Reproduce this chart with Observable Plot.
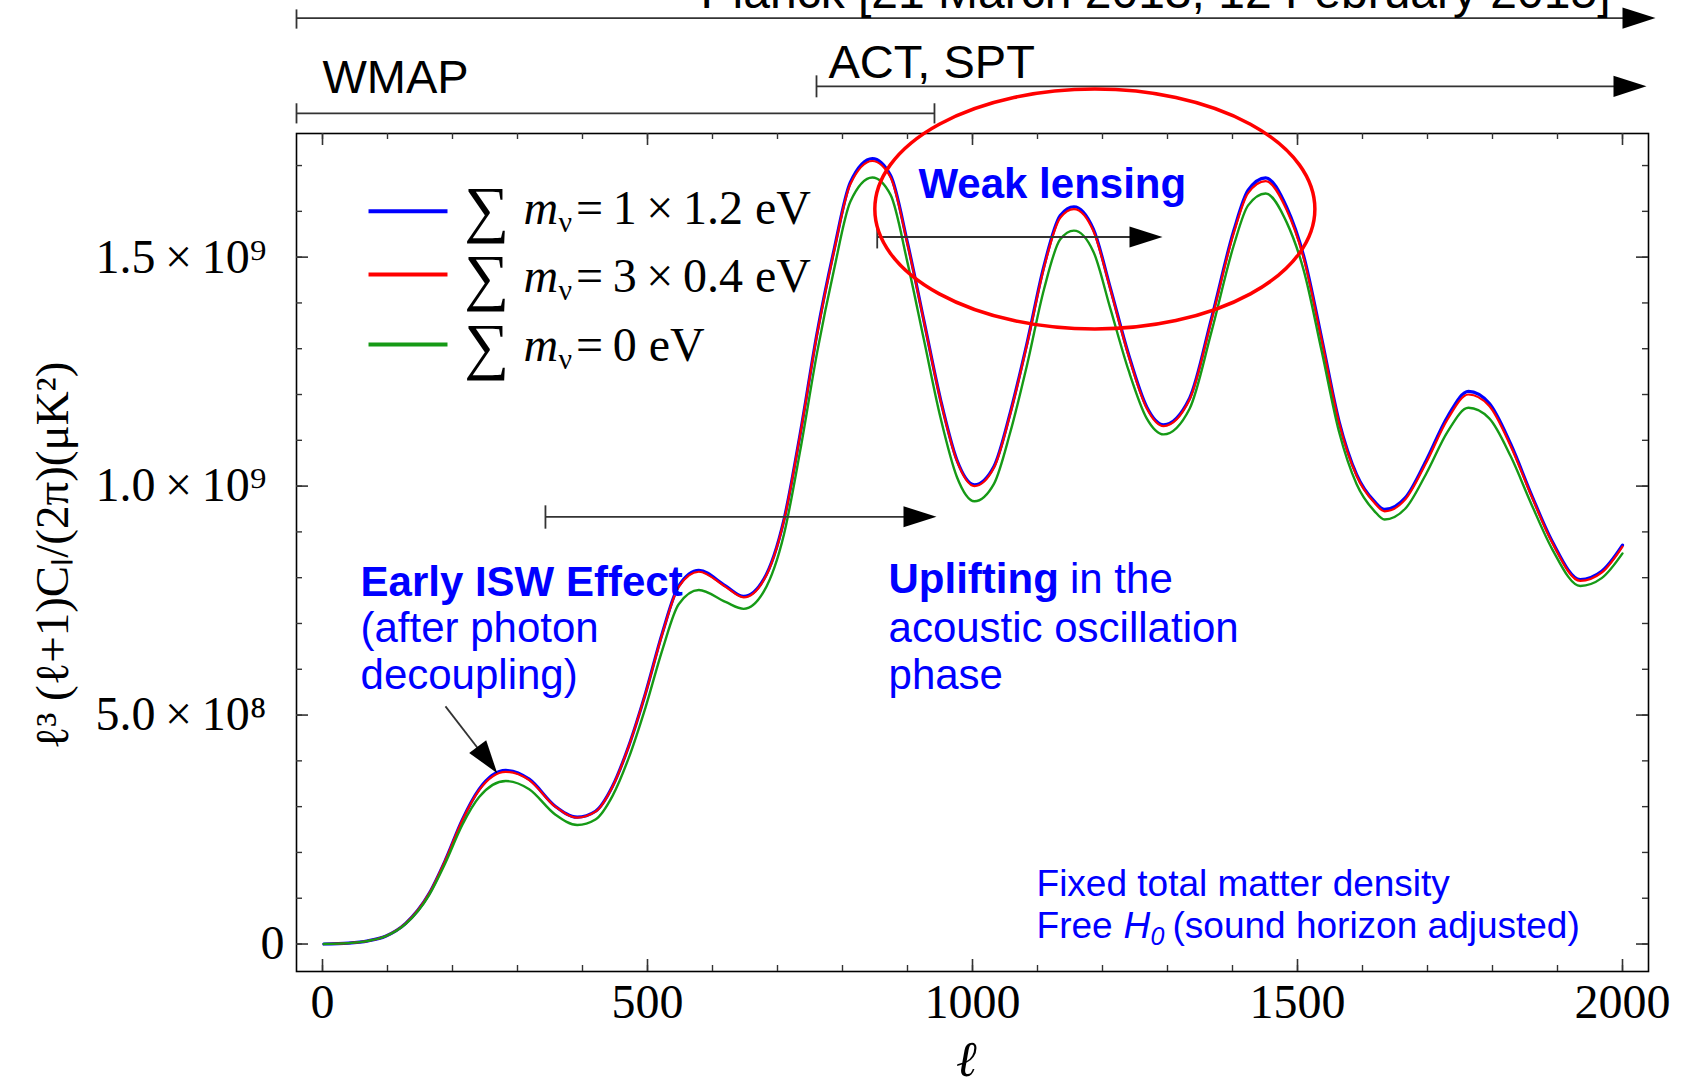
<!DOCTYPE html>
<html>
<head>
<meta charset="utf-8">
<script src="https://cdn.jsdelivr.net/npm/d3@7"></script>
<script src="https://cdn.jsdelivr.net/npm/@observablehq/plot@0.6"></script>
<style>
  html, body { margin: 0; padding: 0; background: #fff; }
  #chart { width: 1683px; height: 1086px; overflow: hidden; }
</style>
</head>
<body>
<div id="chart"></div>
<script>
// ---- data (values in units of 1e8 µK²) ----
const ell = [2, 40, 70, 97, 128, 164, 189, 215, 241, 282, 318, 358, 392, 420, 446, 471, 497, 523, 548, 579,
  620, 648, 679, 710, 735, 761, 787, 812, 846, 874, 900, 925, 951, 976, 1003, 1033, 1058, 1084, 1110, 1135,
  1156, 1186, 1212, 1240, 1268, 1294, 1334, 1368, 1402, 1424, 1451, 1483, 1510, 1537, 1564, 1591, 1618, 1634,
  1666, 1698, 1731, 1763, 1795, 1828, 1860, 1892, 1935, 1968, 2000];

const sumBlue = [0, 0.02, 0.07, 0.17, 0.45, 1.10, 1.83, 2.71, 3.38, 3.79, 3.60, 3.01, 2.77, 2.90, 3.44, 4.32, 5.48, 6.80, 7.82, 8.16,
  7.82, 7.59, 7.97, 9.27, 11.15, 13.35, 15.16, 16.63, 17.15, 16.78, 15.31, 13.63, 11.88, 10.57, 10.03, 10.43, 11.60, 13.13, 14.81, 15.91,
  16.10, 15.61, 14.33, 12.88, 11.73, 11.34, 11.92, 13.68, 15.58, 16.46, 16.73, 16.10, 15.00, 13.24, 11.41, 10.25, 9.67, 9.49,
  9.75, 10.56, 11.52, 12.07, 11.81, 10.92, 9.81, 8.79, 7.96, 8.14, 8.71];

const sumRed = [0, 0.02, 0.07, 0.17, 0.45, 1.10, 1.83, 2.70, 3.36, 3.76, 3.58, 3.00, 2.76, 2.89, 3.43, 4.31, 5.47, 6.78, 7.80, 8.13,
  7.80, 7.57, 7.95, 9.25, 11.13, 13.32, 15.13, 16.59, 17.10, 16.74, 15.28, 13.61, 11.86, 10.55, 10.00, 10.40, 11.57, 13.10, 14.77, 15.86,
  16.05, 15.57, 14.30, 12.85, 11.70, 11.31, 11.89, 13.64, 15.53, 16.40, 16.66, 16.04, 14.95, 13.20, 11.38, 10.22, 9.64, 9.45,
  9.71, 10.51, 11.46, 12.00, 11.75, 10.87, 9.78, 8.76, 7.93, 8.11, 8.68];

const sumGreen = [0, 0.02, 0.07, 0.17, 0.44, 1.07, 1.77, 2.60, 3.21, 3.56, 3.38, 2.83, 2.60, 2.72, 3.23, 4.06, 5.17, 6.43, 7.42, 7.73,
  7.47, 7.32, 7.70, 8.95, 10.78, 12.92, 14.73, 16.21, 16.74, 16.36, 14.88, 13.21, 11.48, 10.20, 9.67, 10.05, 11.17, 12.65, 14.30, 15.39,
  15.58, 15.12, 13.88, 12.53, 11.48, 11.13, 11.69, 13.39, 15.26, 16.13, 16.39, 15.77, 14.69, 12.96, 11.18, 10.04, 9.46, 9.27,
  9.51, 10.27, 11.19, 11.71, 11.48, 10.65, 9.60, 8.62, 7.82, 7.99, 8.53];

const seriesNames = ["=\u20091\u2009×\u20091.2 eV", "=\u20093\u2009×\u20090.4 eV", "=\u20090 eV"];
const seriesColors = ["#0000ff", "#ff0000", "#169a16"];

const xMajor = [0, 500, 1000, 1500, 2000];
const xTickLabels = ["0", "500", "1000", "1500", "2000"];
const xMinor = d3.range(0, 2001, 100);
const yMajor = [5, 10, 15];
const yTickLabels = ["5.0\u2009×\u200910⁸", "1.0\u2009×\u200910⁹", "1.5\u2009×\u200910⁹"];
const yZero = [0];
const yZeroLabel = "0";
const yMinor = d3.range(0, 18, 1);

// legend rows (y positions in data units)
const legendY = [15.73, 14.24, 12.74];
const legendSwatchY = [16.0, 14.62, 13.09];

// annotation geometry (data units: ℓ, 1e8)
const segments = [
  {x1: -40, y1: 20.22, x2: 2010, y2: 20.22},
  {x1: -40, y1: 20.41, x2: -40, y2: 19.99},
  {x1: 760, y1: 18.73, x2: 1995, y2: 18.73},
  {x1: 760, y1: 18.97, x2: 760, y2: 18.49},
  {x1: -40, y1: 18.14, x2: 941.5, y2: 18.14},
  {x1: -40, y1: 18.36, x2: -40, y2: 17.92},
  {x1: 941.5, y1: 18.36, x2: 941.5, y2: 17.92},
  {x1: 853.4, y1: 15.44, x2: 1260, y2: 15.44},
  {x1: 853.4, y1: 15.65, x2: 853.4, y2: 15.19},
  {x1: 343, y1: 9.33, x2: 910, y2: 9.33},
  {x1: 343, y1: 9.58, x2: 343, y2: 9.07},
  {x1: 189.2, y1: 5.19, x2: 245.2, y2: 4.16}
];
const arrowHeads = [
  {x: 2050.8, y: 20.22, angle: 0},
  {x: 2036.9, y: 18.73, angle: 0},
  {x: 1292.3, y: 15.44, angle: 0},
  {x: 944.6, y: 9.33, angle: 0},
  {x: 268.8, y: 3.73, angle: 53.7}
];
const ellipse = {cx: 1189, cy: 16.04, rx: 338.5, ry: 2.62};

const blueNotes = [
  {t: "Early ISW Effect", x: 58.5, y: 7.61, w: "bold", s: 42},
  {t: "(after photon", x: 58.5, y: 6.59, w: "normal", s: 42},
  {t: "decoupling)", x: 58.5, y: 5.58, w: "normal", s: 42},
  {t: "Uplifting", x: 870.8, y: 7.655, w: "bold", s: 42},
  {t: "in the", x: 1150, y: 7.655, w: "normal", s: 42},
  {t: "acoustic oscillation", x: 870.8, y: 6.59, w: "normal", s: 42},
  {t: "phase", x: 870.8, y: 5.58, w: "normal", s: 42},
  {t: "Weak lensing", x: 916.9, y: 16.30, w: "bold", s: 42},
  {t: "Fixed total matter density", x: 1098.5, y: 1.04, w: "normal", s: 37},
  {t: "Free", x: 1098.5, y: 0.14, w: "normal", s: 37},
  {t: "(sound horizon adjusted)", x: 1307.7, y: 0.14, w: "normal", s: 37}
];
const topStartNotes = [
  {t: "WMAP", x: 0, y: 18.58},
  {t: "ACT, SPT", x: 778.5, y: 18.92}
];
const topEndNotes = [
  {t: "Planck [21 March 2013, 12 February 2015]", x: 1981.5, y: 20.45}
];

// ---- build ----
const table = [];
[sumBlue, sumRed, sumGreen].forEach((arr, k) => {
  arr.forEach((v, i) => table.push({series: seriesNames[k], ell: ell[i], v}));
});
const legendRows = seriesNames.map((s, i) => ({series: s, y: legendY[i], sy: legendSwatchY[i]}));

const arrowSymbol = {
  draw(ctx, size) {
    const r = Math.sqrt(size / Math.PI);
    ctx.moveTo(0, 0);
    ctx.lineTo(-r, -0.32 * r);
    ctx.lineTo(-r, 0.32 * r);
    ctx.closePath();
  }
};

const W = 1683, H = 1086, ML = 296, MR = 35, MT = 133, MB = 115;
const IW = W - ML - MR, IH = H - MT - MB;
const tickColor = "#333";

const marks = [
  Plot.frame({stroke: "#000", strokeWidth: 1.6}),
  // inward ticks on all four sides
  Plot.ruleX(xMinor, {insetTop: IH - 6, stroke: tickColor, strokeWidth: 1.4}),
  Plot.ruleX(xMinor, {insetBottom: IH - 6, stroke: tickColor, strokeWidth: 1.4}),
  Plot.ruleX(xMajor, {insetTop: IH - 12, stroke: tickColor, strokeWidth: 1.6}),
  Plot.ruleX(xMajor, {insetBottom: IH - 12, stroke: tickColor, strokeWidth: 1.6}),
  Plot.ruleY(yMinor, {insetRight: IW - 6, stroke: tickColor, strokeWidth: 1.4}),
  Plot.ruleY(yMinor, {insetLeft: IW - 6, stroke: tickColor, strokeWidth: 1.4}),
  Plot.ruleY(yZero.concat(yMajor), {insetRight: IW - 12, stroke: tickColor, strokeWidth: 1.6}),
  Plot.ruleY(yZero.concat(yMajor), {insetLeft: IW - 12, stroke: tickColor, strokeWidth: 1.6}),
  // curves
  Plot.line(table.filter(d => d.series === seriesNames[0]), {x: "ell", y: "v", stroke: "series", strokeWidth: 3.2, curve: "monotone-x"}),
  Plot.line(table.filter(d => d.series === seriesNames[1]), {x: "ell", y: "v", stroke: "series", strokeWidth: 2.2, curve: "monotone-x"}),
  Plot.line(table.filter(d => d.series === seriesNames[2]), {x: "ell", y: "v", stroke: "series", strokeWidth: 2.4, curve: "monotone-x"}),
  // axes
  Plot.axisX({ticks: xMajor, tickFormat: d => xTickLabels[xMajor.indexOf(d)], tickSize: 0, tickPadding: 12,
    fontSize: 48, fontFamily: "Liberation Serif", label: null, fill: "#000"}),
  Plot.axisY({ticks: yMajor, tickFormat: d => yTickLabels[yMajor.indexOf(d)], tickSize: 0, tickPadding: 30,
    fontSize: 48, fontFamily: "Liberation Serif", label: null, fill: "#000"}),
  Plot.axisY({ticks: yZero, tickFormat: () => yZeroLabel, tickSize: 0, tickPadding: 12,
    fontSize: 48, fontFamily: "Liberation Serif", label: null, fill: "#000"}),
  Plot.text(["ℓ³ (ℓ+1)Cₗ/(2π)(μK²)"], {frameAnchor: "left", dx: -244, dy: 3, rotate: -90,
    fontSize: 47, fontFamily: "Liberation Serif", fill: "#000", textAnchor: "middle"}),
  Plot.text(["ℓ"], {frameAnchor: "bottom", dx: -6, dy: 104, fontSize: 50, fontStyle: "italic",
    fontFamily: "Liberation Serif", fill: "#000"}),
  // legend
  Plot.link(legendRows, {x1: 70.8, x2: 192.3, y1: "sy", y2: "sy", stroke: "series", strokeWidth: 4}),
  Plot.text(legendRows, {x: 218, y: "y", text: () => "∑", fontSize: 63, fontFamily: "Liberation Serif",
    textAnchor: "start", lineAnchor: "bottom", dy: 6, fill: "#000"}),
  Plot.text(legendRows, {x: 309.2, y: "y", text: () => "m", fontSize: 48, fontStyle: "italic", fontFamily: "Liberation Serif",
    textAnchor: "start", lineAnchor: "bottom", fill: "#000"}),
  Plot.text(legendRows, {x: 363, y: "y", text: () => "ν", fontSize: 30, fontFamily: "Liberation Serif",
    textAnchor: "start", lineAnchor: "bottom", dy: 8, fill: "#000"}),
  Plot.text(legendRows, {x: 390, y: "y", text: "series", fontSize: 48, fontFamily: "Liberation Serif",
    textAnchor: "start", lineAnchor: "bottom", fill: "#000"}),
  // annotations
  Plot.link(segments, {x1: "x1", y1: "y1", x2: "x2", y2: "y2", stroke: "#333", strokeWidth: 1.8}),
  Plot.dot(arrowHeads, {x: "x", y: "y", rotate: "angle", r: 33, symbol: arrowSymbol, fill: "#000", stroke: "none"}),
  Plot.text(topStartNotes, {x: "x", y: "y", text: "t", textAnchor: "start", fontSize: 47,
    fontFamily: "Liberation Sans", lineAnchor: "bottom", fill: "#000"}),
  Plot.text(topEndNotes, {x: "x", y: "y", text: "t", textAnchor: "end", fontSize: 48,
    fontFamily: "Liberation Sans", lineAnchor: "bottom", fill: "#000"})
];
blueNotes.forEach(n => {
  marks.push(Plot.text([n], {x: "x", y: "y", text: "t", textAnchor: "start", lineAnchor: "bottom",
    fontSize: n.s, fontWeight: n.w, fontFamily: "Liberation Sans", fill: "#0000ff"}));
});
marks.push(Plot.text(["H"], {x: 1232.3, y: 0.14, textAnchor: "start", lineAnchor: "bottom", fontSize: 37,
  fontStyle: "italic", fontFamily: "Liberation Sans", fill: "#0000ff"}));
marks.push(Plot.text(["0"], {x: 1273.8, y: 0.14, dy: 7, textAnchor: "start", lineAnchor: "bottom", fontSize: 25,
  fontStyle: "italic", fontFamily: "Liberation Sans", fill: "#0000ff"}));

const plot = Plot.plot({
  width: W, height: H,
  marginLeft: ML, marginRight: MR, marginTop: MT, marginBottom: MB,
  x: {domain: [-40, 2040]},
  y: {domain: [-0.6, 17.7]},
  color: {domain: seriesNames, range: seriesColors},
  style: {background: "white", fontFamily: "Liberation Serif"},
  marks
});

// red ellipse highlighting the weak-lensing region, placed through Plot's scales
const sx = plot.scale("x"), sy = plot.scale("y");
const cx = sx.apply(ellipse.cx), cy = sy.apply(ellipse.cy);
d3.select(plot).append("ellipse")
  .attr("cx", cx).attr("cy", cy)
  .attr("rx", sx.apply(ellipse.cx + ellipse.rx) - cx)
  .attr("ry", sy.apply(ellipse.cy - ellipse.ry) - cy)
  .attr("fill", "none").attr("stroke", "#ff0000").attr("stroke-width", 3.5);

document.getElementById("chart").appendChild(plot);
</script>
</body>
</html>
